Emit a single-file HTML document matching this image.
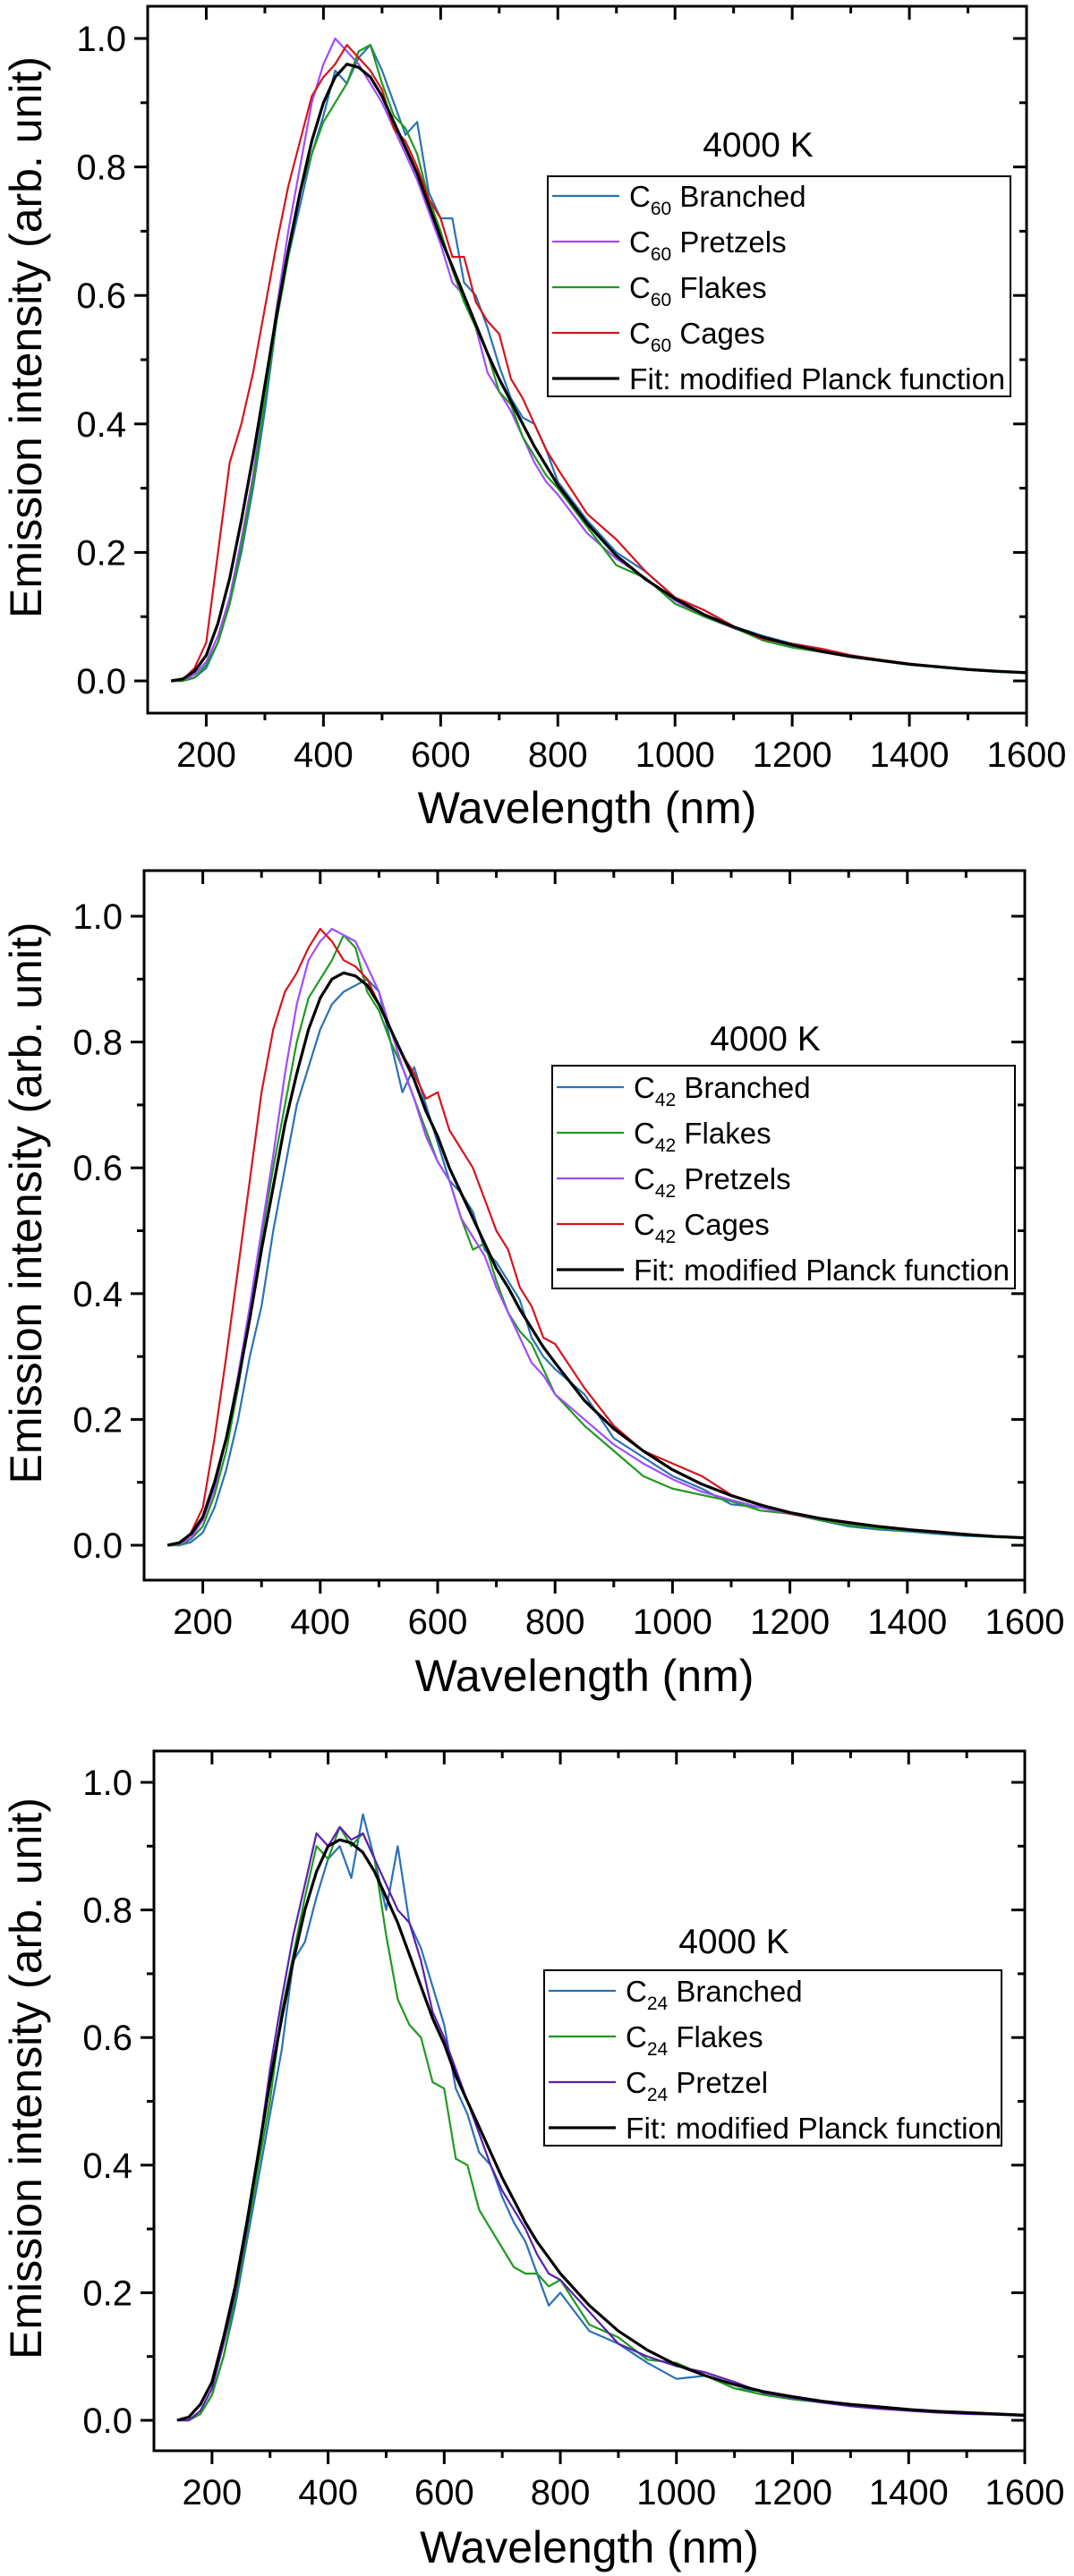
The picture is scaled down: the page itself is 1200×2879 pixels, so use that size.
<!DOCTYPE html>
<html><head><meta charset="utf-8"><style>
html,body{margin:0;padding:0;background:#fff;}
svg{display:block;font-family:"Liberation Sans",Arial,sans-serif;}
</style></head><body>
<svg id="fig" width="1200" height="2879" viewBox="0 0 1200 2879" xmlns="http://www.w3.org/2000/svg"></svg>
<script>
// Shared wavelength grid (nm)
const wavelengths = [140,160,180,200,220,240,260,280,300,320,340,360,380,400,420,440,460,480,500,520,540,560,580,600,620,640,660,680,700,720,740,760,780,800,850,900,950,1000,1050,1100,1150,1200,1250,1300,1350,1400,1450,1500,1550,1600];
const xTicks = [200,400,600,800,1000,1200,1400,1600];
const yTicks = [0.0,0.2,0.4,0.6,0.8,1.0];
const yTickLabels = ["0.0","0.2","0.4","0.6","0.8","1.0"];

// Panel 1 (C60)
const p1Branched = [0,0,0.005,0.02,0.06,0.12,0.20,0.30,0.42,0.56,0.66,0.74,0.82,0.88,0.95,0.93,0.97,0.99,0.95,0.90,0.85,0.87,0.76,0.72,0.72,0.62,0.60,0.55,0.49,0.44,0.41,0.40,0.36,0.31,0.25,0.20,0.17,0.13,0.11,0.085,0.07,0.058,0.05,0.04,0.032,0.026,0.021,0.018,0.015,0.013];
const p1Pretzels = [0,0,0.01,0.03,0.07,0.13,0.22,0.32,0.45,0.58,0.70,0.80,0.90,0.96,1.0,0.98,0.96,0.93,0.90,0.86,0.82,0.78,0.73,0.68,0.62,0.60,0.55,0.48,0.45,0.42,0.38,0.34,0.31,0.29,0.23,0.19,0.16,0.125,0.10,0.082,0.066,0.055,0.045,0.037,0.031,0.025,0.021,0.017,0.014,0.012];
const p1Flakes = [0,0,0.005,0.025,0.06,0.12,0.21,0.31,0.44,0.56,0.66,0.76,0.82,0.87,0.90,0.93,0.98,0.99,0.93,0.88,0.86,0.82,0.75,0.70,0.64,0.59,0.55,0.51,0.45,0.43,0.38,0.35,0.32,0.30,0.24,0.18,0.16,0.12,0.10,0.083,0.063,0.052,0.045,0.037,0.031,0.025,0.021,0.017,0.014,0.012];
const p1Cages = [0,0.002,0.02,0.06,0.20,0.34,0.40,0.48,0.58,0.68,0.77,0.84,0.91,0.94,0.96,0.99,0.97,0.95,0.92,0.86,0.84,0.80,0.75,0.72,0.66,0.66,0.59,0.56,0.54,0.47,0.44,0.40,0.36,0.33,0.26,0.22,0.17,0.13,0.11,0.085,0.065,0.058,0.05,0.04,0.033,0.027,0.022,0.018,0.015,0.013];
const p1Fit = [0,0.003,0.015,0.04,0.09,0.16,0.25,0.35,0.46,0.57,0.67,0.76,0.84,0.90,0.94,0.96,0.955,0.94,0.91,0.87,0.83,0.79,0.74,0.69,0.645,0.60,0.555,0.51,0.47,0.435,0.40,0.365,0.335,0.305,0.245,0.195,0.158,0.128,0.103,0.084,0.068,0.056,0.046,0.038,0.032,0.026,0.022,0.018,0.015,0.013];

// Panel 2 (C42)
const p2Branched = [0,0,0.005,0.02,0.06,0.12,0.20,0.30,0.38,0.50,0.60,0.70,0.76,0.82,0.86,0.88,0.89,0.90,0.88,0.80,0.72,0.76,0.70,0.64,0.58,0.56,0.53,0.47,0.45,0.42,0.39,0.33,0.30,0.28,0.24,0.17,0.14,0.11,0.09,0.065,0.06,0.05,0.04,0.03,0.025,0.022,0.018,0.015,0.013,0.012];
const p2Flakes = [0,0,0.01,0.03,0.08,0.15,0.25,0.37,0.49,0.60,0.70,0.80,0.87,0.90,0.93,0.97,0.95,0.88,0.85,0.80,0.76,0.71,0.66,0.61,0.58,0.52,0.47,0.48,0.42,0.37,0.34,0.32,0.28,0.24,0.19,0.15,0.11,0.09,0.08,0.07,0.055,0.05,0.04,0.032,0.027,0.023,0.02,0.016,0.013,0.011];
const p2Pretzels = [0,0.002,0.012,0.04,0.09,0.17,0.27,0.38,0.50,0.62,0.75,0.86,0.93,0.96,0.98,0.97,0.96,0.92,0.88,0.82,0.76,0.71,0.65,0.61,0.58,0.52,0.49,0.46,0.41,0.37,0.33,0.29,0.27,0.24,0.20,0.16,0.13,0.105,0.085,0.072,0.06,0.05,0.042,0.035,0.03,0.025,0.021,0.017,0.014,0.012];
const p2Cages = [0,0.003,0.02,0.06,0.17,0.30,0.44,0.58,0.72,0.82,0.88,0.91,0.95,0.98,0.96,0.93,0.92,0.90,0.86,0.82,0.78,0.75,0.71,0.72,0.66,0.63,0.60,0.55,0.50,0.47,0.41,0.38,0.33,0.32,0.25,0.19,0.15,0.13,0.11,0.08,0.065,0.05,0.043,0.037,0.03,0.025,0.022,0.018,0.014,0.012];
const p2Fit = [0,0.004,0.018,0.045,0.10,0.17,0.26,0.36,0.47,0.57,0.67,0.75,0.82,0.87,0.90,0.91,0.905,0.89,0.86,0.82,0.78,0.74,0.69,0.65,0.60,0.56,0.52,0.48,0.44,0.41,0.375,0.345,0.315,0.29,0.23,0.185,0.15,0.12,0.097,0.079,0.064,0.052,0.043,0.036,0.030,0.025,0.021,0.017,0.014,0.012];

// Panel 3 (C24)
const p3Branched = [0,0,0.01,0.04,0.10,0.18,0.28,0.38,0.48,0.58,0.72,0.75,0.82,0.88,0.90,0.85,0.95,0.88,0.80,0.90,0.78,0.74,0.68,0.62,0.52,0.48,0.42,0.40,0.35,0.31,0.28,0.23,0.18,0.20,0.14,0.12,0.09,0.065,0.07,0.05,0.045,0.035,0.03,0.025,0.02,0.015,0.013,0.012,0.01,0.008];
const p3Flakes = [0,0,0.01,0.04,0.10,0.19,0.29,0.40,0.50,0.64,0.73,0.82,0.90,0.88,0.93,0.90,0.92,0.88,0.76,0.66,0.62,0.60,0.53,0.52,0.41,0.40,0.33,0.30,0.27,0.24,0.23,0.23,0.21,0.22,0.15,0.13,0.095,0.09,0.07,0.05,0.04,0.033,0.028,0.023,0.02,0.017,0.014,0.011,0.009,0.007];
const p3Pretzel = [0,0,0.015,0.05,0.12,0.20,0.30,0.42,0.55,0.66,0.76,0.84,0.92,0.90,0.93,0.91,0.92,0.88,0.84,0.80,0.78,0.72,0.64,0.60,0.55,0.50,0.45,0.40,0.36,0.33,0.30,0.26,0.23,0.22,0.17,0.12,0.10,0.085,0.075,0.06,0.043,0.035,0.028,0.022,0.018,0.015,0.012,0.01,0.009,0.007];
const p3Fit = [0,0.005,0.025,0.06,0.13,0.21,0.31,0.42,0.53,0.63,0.72,0.80,0.86,0.90,0.91,0.905,0.89,0.86,0.82,0.78,0.73,0.68,0.63,0.59,0.54,0.50,0.46,0.42,0.38,0.345,0.31,0.28,0.255,0.23,0.18,0.14,0.11,0.087,0.07,0.056,0.045,0.037,0.030,0.025,0.021,0.017,0.014,0.012,0.010,0.008];

const BLUE="#2a72b5", PURPLE="#a14cff", GREEN="#1f9a1f", RED="#d6141c", DPURPLE="#5a1fb0", BLACK="#000";

const panels = [
 {name:"c60", sub:"60", L:165,R:1147,T:7,B:797, y0:761, y1:43,
  legend:{x:612,y:197,w:517,h:246,row0:219}, tempX:847,tempY:175, xlabY:857, xtitleY:920,
  series:[["Branched",p1Branched,BLUE],["Pretzels",p1Pretzels,PURPLE],["Flakes",p1Flakes,GREEN],["Cages",p1Cages,RED]], fit:p1Fit},
 {name:"c42", sub:"42", L:161,R:1145,T:973,B:1766, y0:1727, y1:1024,
  legend:{x:617,y:1191,w:517,h:249,row0:1215}, tempX:855,tempY:1174, xlabY:1826, xtitleY:1890,
  series:[["Branched",p2Branched,BLUE],["Flakes",p2Flakes,GREEN],["Pretzels",p2Pretzels,PURPLE],["Cages",p2Cages,RED]], fit:p2Fit},
 {name:"c24", sub:"24", L:172,R:1145,T:1957,B:2739, y0:2705, y1:1992,
  legend:{x:608,y:2202,w:511,h:196,row0:2225}, tempX:820,tempY:2183, xlabY:2799, xtitleY:2864,
  series:[["Branched",p3Branched,BLUE],["Flakes",p3Flakes,GREEN],["Pretzel",p3Pretzel,DPURPLE]], fit:p3Fit}
];

const NS="http://www.w3.org/2000/svg";
const svg=document.getElementById('fig');
function mk(tag,attrs,parent){const e=document.createElementNS(NS,tag);for(const k in attrs)e.setAttribute(k,attrs[k]);(parent||svg).appendChild(e);return e;}

panels.forEach(p=>{
  const xmin=100,xmax=1600;
  const xs=v=>p.L+(v-xmin)/(xmax-xmin)*(p.R-p.L);
  const ys=v=>p.y0+(p.y1-p.y0)*v;
  const g=mk('g',{});
  
  

  // series
  const clipId='clip-'+p.name;
  const cp=mk('clipPath',{id:clipId},g);
  mk('rect',{x:p.L,y:p.T,width:p.R-p.L,height:p.B-p.T},cp);
  const plot=mk('g',{'clip-path':'url(#'+clipId+')'},g);
  const all=p.series.map(s=>[s[0],s[1],s[2],2.2]).concat([["Fit",p.fit,BLACK,3.2]]);
  all.forEach(s=>{
    const pts=wavelengths.map((w,i)=>xs(w).toFixed(1)+','+ys(s[1][i]).toFixed(1)).join(' ');
    const pl=mk('polyline',{points:pts,fill:'none',stroke:s[2],'stroke-width':s[3],'stroke-linejoin':'round'},plot);
    
    
  });

  // frame
  const fr=mk('rect',{x:p.L,y:p.T,width:p.R-p.L,height:p.B-p.T,fill:'none',stroke:'#000','stroke-width':3},g);
  
  

  // x ticks
  for(let v=200;v<=1600;v+=100){
    const major=v%200===0, x=xs(v), len=major?15:8;
    mk('line',{x1:x,y1:p.B,x2:x,y2:p.B+len,stroke:'#000','stroke-width':3},g);
    mk('line',{x1:x,y1:p.T,x2:x,y2:p.T+len,stroke:'#000','stroke-width':3},g);
  }
  xTicks.forEach(v=>{
    const t=mk('text',{x:xs(v),y:p.xlabY,'font-size':40,'text-anchor':'middle'},g);
    t.textContent=String(v);
    
    
  });
  // y ticks
  for(let i=0;i<=10;i++){
    const v=i/10, y=ys(v), major=i%2===0, len=major?15:8;
    mk('line',{x1:p.L-len,y1:y,x2:p.L,y2:y,stroke:'#000','stroke-width':3},g);
    mk('line',{x1:p.R-len,y1:y,x2:p.R,y2:y,stroke:'#000','stroke-width':3},g);
  }
  yTicks.forEach((v,i)=>{
    const t=mk('text',{x:p.L-24,y:ys(v)+14,'font-size':40,'text-anchor':'end'},g);
    t.textContent=yTickLabels[i];
    
    
  });
  // axis titles
  const xt=mk('text',{x:(p.L+p.R)/2,y:p.xtitleY,'font-size':50,'text-anchor':'middle'},g);
  xt.textContent='Wavelength (nm)';
  
  
  const cy=(p.T+p.B)/2-25;
  const yt=mk('text',{x:0,y:0,'font-size':50,'text-anchor':'middle',transform:'translate(46,'+cy+') rotate(-90)'},g);
  yt.textContent='Emission intensity (arb. unit)';
  
  

  // temperature label
  const tl=mk('text',{x:p.tempX,y:p.tempY,'font-size':39,'text-anchor':'middle'},g);
  tl.textContent='4000 K';
  
  

  // legend
  const lg=mk('g',{},g);
  
  
  mk('rect',{x:p.legend.x,y:p.legend.y,width:p.legend.w,height:p.legend.h,fill:'#fff',stroke:'#000','stroke-width':2},lg);
  all.forEach((s,i)=>{
    const ry=p.legend.row0+i*51;
    mk('line',{x1:p.legend.x+5,y1:ry,x2:p.legend.x+80,y2:ry,stroke:s[2],'stroke-width':s[3]},lg);
    const t=mk('text',{x:p.legend.x+91,y:ry+12,'font-size':33},lg);
    
    
    if(s[0]==="Fit"){
      t.textContent='Fit: modified Planck function';
      t.setAttribute('textLength',420);
      t.setAttribute('lengthAdjust','spacingAndGlyphs');
    } else {
      const a=mk('tspan',{},t); a.textContent='C';
      const b=mk('tspan',{'font-size':21,dy:9},t); b.textContent=p.sub;
      const c=mk('tspan',{dy:-9},t); c.textContent=' '+s[0];
    }
  });
});
</script>
</body></html>
